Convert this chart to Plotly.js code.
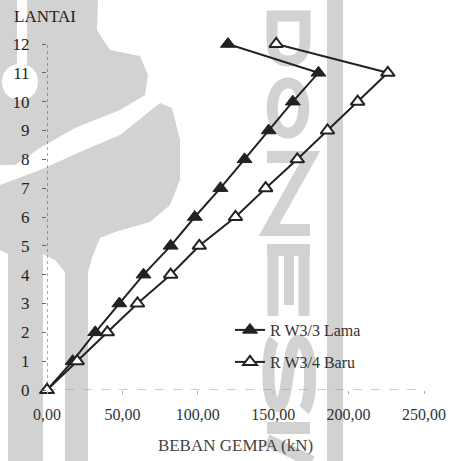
<!DOCTYPE html>
<html>
<head>
<meta charset="utf-8">
<script src="https://cdn.plot.ly/plotly-3.0.1.min.js"></script>
<style>html,body{margin:0;padding:0;background:#fff;}#chart{width:457px;height:461px;}</style>
</head>
<body>
<div id="chart"></div>
<script>
// Floors (LANTAI)
var lantai = [0, 1, 2, 3, 4, 5, 6, 7, 8, 9, 10, 11, 12];
// Earthquake load (kN) per floor
var rw33Lama = [0, 17, 32, 48, 64, 82, 98, 115, 131, 147, 163, 180, 120];
var rw34Baru = [0, 20, 40, 60, 82, 101, 125, 145, 166, 186, 206, 226, 152];
var seriesNames = ["R W3/3 Lama", "R W3/4 Baru"];
var xTickVals = [0, 50, 100, 150, 200, 250];
var yTickVals = [0, 1, 2, 3, 4, 5, 6, 7, 8, 9, 10, 11, 12];
var xTitle = "BEBAN GEMPA (kN)";
var yTitle = "LANTAI";

var font = "Liberation Serif, Times New Roman, serif";

// ---- plot geometry (pixels) ----
var W = 457, H = 461, ML = 47, MR = 33, MT = 44, MB = 71;
var PW = W - ML - MR, PH = H - MT - MB;
function px(x) { return ((x - ML) / PW).toFixed(4); }
function py(y) { return ((H - MB - y) / PH).toFixed(4); }
// convert a pixel path ("M x,y L x,y ...") into paper coordinates
function ppath(d) {
  return d.replace(/(-?\d+(?:\.\d+)?),(-?\d+(?:\.\d+)?)/g, function (m, a, b) {
    return px(+a) + "," + py(+b);
  });
}
var WM = "#d2d2d2";
function wmFill(d) {
  return {type: "path", xref: "paper", yref: "paper", path: ppath(d), fillcolor: WM, line: {width: 0}, layer: "below"};
}
function wmStroke(d, w) {
  return {type: "path", xref: "paper", yref: "paper", path: ppath(d), line: {color: WM, width: w}, layer: "below"};
}
function whiteFill(d) {
  return {type: "path", xref: "paper", yref: "paper", path: ppath(d), fillcolor: "#fff", line: {width: 0}, layer: "below"};
}

// background watermark (scan) approximations
var watermark = [
  // left logo, top blob
  wmFill("M 0,0 L 98,0 L 97,30 L 110,50 L 140,56 L 148,75 L 145,95 L 120,110 L 75,128 L 40,148 L 15,165 L 0,165 Z"),
  whiteFill("M 17,0 L 27,0 L 27,66 L 17,66 Z"),
  whiteFill("M 2,82 C 2,58 38,58 38,82 C 38,106 2,106 2,82 Z"),
  // left logo, lower swoosh
  wmFill("M 0,185 L 40,170 L 80,152 L 120,135 L 160,103 L 172,108 L 180,140 L 180,180 L 170,205 L 150,222 L 115,232 L 100,238 L 92,258 L 88,272 L 65,272 L 55,260 L 43,254 L 8,254 L 0,250 Z"),
  // left logo, stems
  wmFill("M 8,250 L 43,250 L 43,461 L 8,461 Z"),
  wmFill("M 65,268 L 88,268 L 88,461 L 65,461 Z"),
  // right vertical bar
  wmFill("M 327,0 L 343,0 L 343,461 L 327,461 Z"),
  // rotated letters "D O N E S I A"
  wmStroke("M 272,16 L 305,16 L 305,40 Q 305,61 288,61 Q 272,61 272,40 Z", 11),
  wmStroke("M 288,83 C 309,83 309,133 288,133 C 267,133 267,83 288,83 Z", 11),
  wmStroke("M 267,157 L 310,157 L 269,230 L 310,230", 12),
  wmStroke("M 267,250 L 310,250", 12),
  wmStroke("M 273,250 L 273,316", 11),
  wmStroke("M 289,250 L 289,305", 10),
  wmStroke("M 304,250 L 304,316", 11),
  wmStroke("M 304,410 C 313,400 313,343 299,341 C 286,339 290,408 277,406 C 266,404 266,350 274,340", 12),
  wmStroke("M 267,428 L 310,428", 12),
  wmStroke("M 267,440 L 312,462", 12)
];

var traces = [
  {
    x: rw33Lama, y: lantai, name: seriesNames[0], type: "scatter", mode: "lines+markers",
    line: {color: "#222", width: 2}, cliponaxis: false,
    marker: {symbol: "triangle-up", size: 13, color: "#222", line: {color: "#222", width: 1}},
    legend: "legend"
  },
  {
    x: rw34Baru, y: lantai, name: seriesNames[1], type: "scatter", mode: "lines+markers",
    line: {color: "#222", width: 2}, cliponaxis: false,
    marker: {symbol: "triangle-up", size: 12, color: "#fff", line: {color: "#222", width: 2}},
    legend: "legend2"
  }
];

var layout = {
  width: W, height: H,
  margin: {l: ML, r: MR, t: MT, b: MB, pad: 0},
  paper_bgcolor: "#fff", plot_bgcolor: "rgba(0,0,0,0)",
  separators: ",.",
  font: {family: font, size: 16, color: "#333"},
  showlegend: true,
  xaxis: {
    range: [0, 250], tickvals: xTickVals, tickformat: ".2f",
    showgrid: false, zeroline: false, showline: false,
    ticks: "outside", ticklen: 3, tickcolor: "#aaa",
    ticklabelstandoff: 7,
    tickfont: {family: font, size: 16, color: "#333"},
    title: {text: xTitle, font: {family: font, size: 17, color: "#444"}, standoff: 16},
    fixedrange: true
  },
  yaxis: {
    range: [0, 12], tickvals: yTickVals,
    showgrid: false, zeroline: false, showline: false,
    ticks: "outside", ticklen: 4, tickcolor: "#666",
    ticklabelstandoff: 9,
    tickfont: {family: font, size: 17, color: "#222"},
    fixedrange: true
  },
  shapes: watermark.concat([
    {type: "line", xref: "x", yref: "y", x0: 0, x1: 0, y0: 0, y1: 12, line: {color: "#555", width: 1, dash: "dot"}, layer: "below"},
    {type: "line", xref: "x", yref: "y", x0: 0, x1: 250, y0: 0, y1: 0, line: {color: "#999", width: 1, dash: "dash"}, layer: "below"}
  ]),
  annotations: [
    {text: yTitle, xref: "paper", yref: "paper", x: px(12), y: py(16), xanchor: "left", yanchor: "middle", showarrow: false,
     font: {family: font, size: 17, color: "#222"}}
  ],
  legend: {x: px(230), y: py(330), xanchor: "left", yanchor: "middle", bgcolor: "rgba(0,0,0,0)", borderwidth: 0,
           font: {family: font, size: 16, color: "#333"}},
  legend2: {x: px(230), y: py(362), xanchor: "left", yanchor: "middle", bgcolor: "rgba(0,0,0,0)", borderwidth: 0,
           font: {family: font, size: 16, color: "#333"}}
};

Plotly.newPlot("chart", traces, layout, {displayModeBar: false, staticPlot: true});
</script>
</body>
</html>
